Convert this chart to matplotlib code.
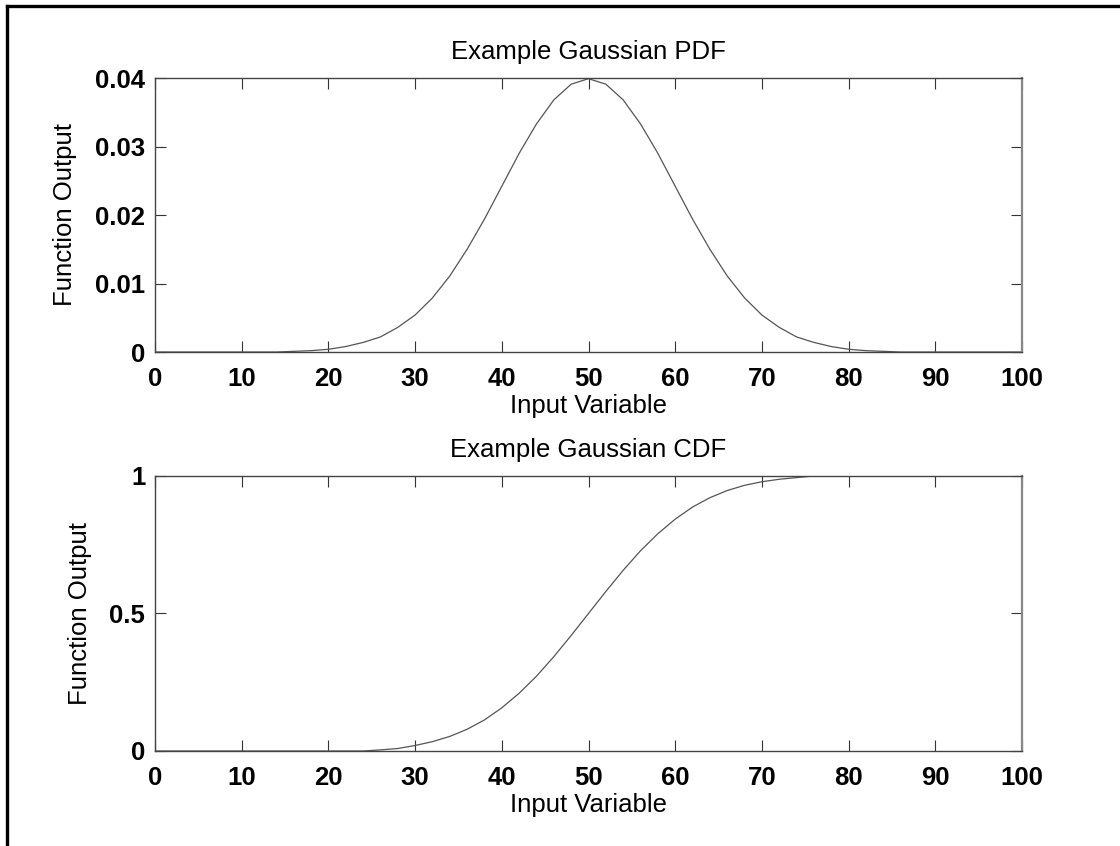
import matplotlib
matplotlib.use('Agg')
import matplotlib.pyplot as plt
from matplotlib.lines import Line2D

plt.rcParams['font.family'] = ['Liberation Sans', 'DejaVu Sans']

# values, every 2 units of the input variable
x = list(range(0, 101, 2))
pdf = [0.0000, 0.0000, 0.0000, 0.0000, 0.0000, 0.0000, 0.0000, 0.0000,
       0.0001, 0.0002, 0.0004, 0.0008, 0.0014, 0.0022, 0.0036, 0.0054,
       0.0079, 0.0111, 0.0150, 0.0194, 0.0242, 0.0290, 0.0333, 0.0368,
       0.0391, 0.0399, 0.0391, 0.0368, 0.0333, 0.0290, 0.0242, 0.0194,
       0.0150, 0.0111, 0.0079, 0.0054, 0.0036, 0.0022, 0.0014, 0.0008,
       0.0004, 0.0002, 0.0001, 0.0000, 0.0000, 0.0000, 0.0000, 0.0000,
       0.0000, 0.0000, 0.0000]
cdf = [0.000, 0.000, 0.000, 0.000, 0.000, 0.000, 0.000, 0.000,
       0.000, 0.000, 0.000, 0.000, 0.000, 0.004, 0.009, 0.020,
       0.034, 0.053, 0.079, 0.113, 0.157, 0.210, 0.272, 0.343,
       0.420, 0.500, 0.580, 0.657, 0.728, 0.790, 0.843, 0.887,
       0.921, 0.947, 0.966, 0.979, 0.988, 0.994, 1.000, 1.000,
       1.000, 1.000, 1.000, 1.000, 1.000, 1.000, 1.000, 1.000,
       1.000, 1.000, 1.000]

xticks = list(range(0, 101, 10))
fs = 18.5

fig = plt.figure(figsize=(11.2, 8.46), dpi=100)

def style(ax, title, yticks, yticklabels, ylab_x):
    ax.set_xlim(0, 100)
    ax.set_xticks(xticks)
    ax.set_yticks(yticks)
    ax.set_yticklabels(yticklabels)
    ax.tick_params(direction='in', length=8, width=0.8, top=True, right=True,
                   labelsize=fs, colors='#333333', labelcolor='black')
    ax.tick_params(axis='x', pad=11)
    ax.tick_params(axis='y', pad=7)
    for lab in ax.get_xticklabels() + ax.get_yticklabels():
        lab.set_fontweight('bold')
    for s in ax.spines.values():
        s.set_color('#444444')
        s.set_linewidth(1.0)
    ax.spines['right'].set_color('#888888')
    ax.spines['right'].set_linewidth(1.6)
    ax.set_title(title, fontsize=fs, pad=14)
    ax.set_xlabel('Input Variable', fontsize=fs, labelpad=2)
    ax.set_ylabel('Function Output', fontsize=fs)
    ax.yaxis.set_label_coords(ylab_x, 0.5)

ax1 = fig.add_axes([0.1384, 0.5839, 0.9125 - 0.1384, 0.9078 - 0.5839])
ax1.plot(x, pdf, color='#555555', lw=0.9)
ax1.set_ylim(0, 0.04)
style(ax1, 'Example Gaussian PDF', [0, 0.01, 0.02, 0.03, 0.04],
      ['0', '0.01', '0.02', '0.03', '0.04'], -0.09)

ax2 = fig.add_axes([0.1384, 0.1123, 0.9125 - 0.1384, 0.4374 - 0.1123])
ax2.plot(x, cdf, color='#555555', lw=0.9)
ax2.set_ylim(0, 1)
style(ax2, 'Example Gaussian CDF', [0, 0.5, 1], ['0', '0.5', '1'], -0.073)

# black frame on top and left edge of the picture
fig.add_artist(Line2D([0.0063, 1.0], [1 - 6 / 846, 1 - 6 / 846],
                      transform=fig.transFigure, color='black', lw=2.4))
fig.add_artist(Line2D([7 / 1120, 7 / 1120], [0.0, 1 - 6 / 846],
                      transform=fig.transFigure, color='black', lw=2.4))

fig.savefig('out.png', dpi=100)
